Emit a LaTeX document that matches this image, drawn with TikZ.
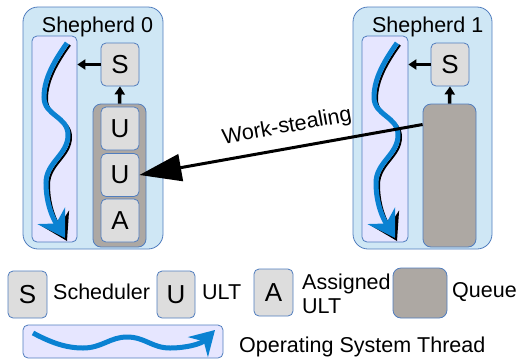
\documentclass[tikz,border=0pt]{standalone}
\usepackage{fontspec}
\setmainfont{Liberation Sans}
\usetikzlibrary{arrows.meta,calc}
\definecolor{shepfill}{RGB}{207,231,245}
\definecolor{shepline}{RGB}{80,125,190}
\definecolor{thrfill}{RGB}{230,230,255}
\definecolor{boxfill}{RGB}{221,221,221}
\definecolor{queuefill}{RGB}{173,168,163}
\definecolor{wave}{RGB}{10,130,210}
\tikzset{
  shep/.style={draw=shepline,fill=shepfill,line width=0.8pt,rounded corners=15pt,minimum width=#1,minimum height=242pt,inner sep=0pt},
  thr/.style={draw=shepline,fill=thrfill,line width=0.8pt,rounded corners=5pt,inner sep=0pt},
  item/.style={draw=shepline,fill=boxfill,line width=0.8pt,rounded corners=5pt,minimum width=38pt,minimum height=43pt,inner sep=0pt,font=\fontsize{26}{26}\selectfont},
  queue/.style={draw=shepline,fill=queuefill,line width=0.8pt,rounded corners=8pt,inner sep=0pt},
  lbl/.style={font=\fontsize{21.5}{23}\selectfont,inner sep=0pt},
  small/.style={line width=3.5pt,-{Triangle[length=8pt,width=10pt]}},
  wavey/.style={draw=wave,line width=5pt,-{Stealth[length=26pt,width=32pt,inset=9pt]}},
  shadow/.style={draw=black,line width=2pt,-{Stealth[length=26pt,width=32pt,inset=9pt]}},
}
\begin{document}
\begin{tikzpicture}[x=1pt,y=-1pt]
\useasboundingbox (0,0) rectangle (517,360);
% Shepherd 0
\node[shep=140pt] (sh0) at (93,128) {};
\node[lbl,anchor=base] (sh0t) at (97.5,32) {Shepherd 0};
\node[thr,minimum width=45pt,minimum height=206pt] (t0) at (54.5,139) {};
\node[item] (s0) at (120,64.5) {S};
\node[queue,minimum width=53pt,minimum height=143pt] (q0) at (119.5,175.5) {};
\node[item] (u1) at (120,128.5) {U};
\node[item] (u2) at (120,175) {U};
\node[item] (a0) at (120,220.5) {A};
\draw[small] (s0.west) -- (t0.east |- s0.west);
\draw[small] (q0.north) -- (s0.south);
% Shepherd 1
\node[shep=139pt] (sh1) at (422.5,128) {};
\node[lbl,anchor=base] (sh1t) at (427.7,32) {Shepherd 1};
\node[thr,minimum width=46pt,minimum height=206pt] (t1) at (385,139) {};
\node[item] (s1) at (450,64.5) {S};
\node[queue,minimum width=53pt,minimum height=143pt] (q1) at (449.5,175.5) {};
\draw[small] (s1.west) -- (t1.east |- s1.west);
\draw[small] (q1.north) -- (s1.south);
% threads
\foreach \dx in {0,330}{
  \begin{scope}[xshift=\dx pt]
  \draw[shadow] (70,45) .. controls (58,62) and (47,80) .. (47,99) .. controls (47,118) and (71,118) .. (71,137) .. controls (71,157) and (49,164) .. (49,185) .. controls (49,207) and (57,222) .. (67,241);
  \draw[wavey] (67,43) .. controls (55,60) and (44,78) .. (44,97) .. controls (44,116) and (68,116) .. (68,135) .. controls (68,155) and (46,162) .. (46,183) .. controls (46,205) and (54,220) .. (65,238);
  \end{scope}
}
% work stealing
\draw[line width=3pt,-{Triangle[length=42pt,width=27pt]}] ([yshift=51pt]q1.west) -- (u2.east);
\node[lbl,rotate=10.2] (ws) at (287,127) {Work-stealing};
% legend
\node[item,minimum width=39pt,minimum height=47pt] (ls) at (27.5,294.5) {S};
\node[lbl,anchor=base west] (lst) at (53,299) {Scheduler};
\node[item,minimum width=38pt,minimum height=47pt] (lu) at (176,294.5) {U};
\node[lbl,anchor=base west] (lut) at (202,299) {ULT};
\node[item,minimum width=39pt,minimum height=47pt] (la) at (273.5,292.5) {A};
\node[lbl,anchor=base west] (lat1) at (302,289) {Assigned};
\node[lbl,anchor=base west] (lat2) at (302,313) {ULT};
\node[queue,minimum width=54pt,minimum height=50pt] (lq) at (420,293) {};
\node[lbl,anchor=base west] (lqt) at (452,297.5) {Queue};
\node[thr,minimum width=200pt,minimum height=33pt] (lt) at (123,341.5) {};
\draw[wavey,-{Stealth[length=24pt,width=28pt,inset=8pt]}] (33,333) .. controls (50,342) and (65,348) .. (83,348) .. controls (102,348) and (110,337) .. (127,337) .. controls (145,337) and (152,348) .. (170,348) .. controls (186,348) and (201,344) .. (215,330);
\node[lbl,anchor=base west] (ltt) at (239,352) {Operating System Thread};
\end{tikzpicture}
\end{document}
